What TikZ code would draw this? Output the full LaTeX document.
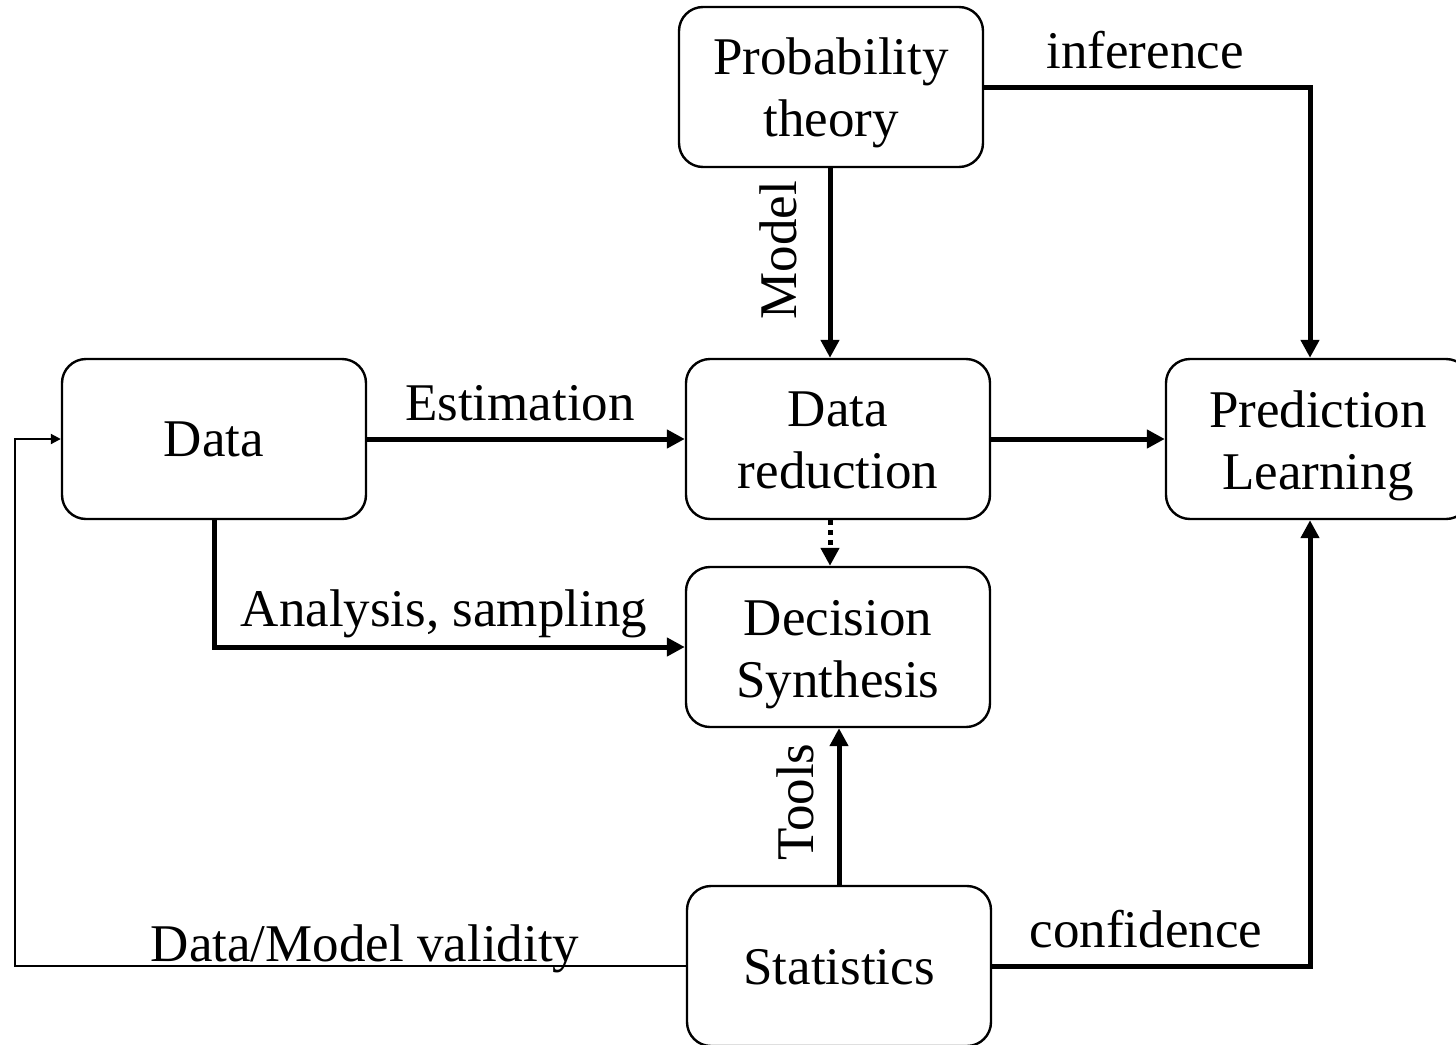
\documentclass[tikz,border=0pt]{standalone}
\usepackage{fontspec}
\setmainfont{Liberation Serif}
\usetikzlibrary{arrows.meta}
\newcommand{\btext}[2][3pt]{\raisebox{-#1}[\height][\depth]{\begin{tabular}{@{}c@{}}#2\end{tabular}}}
\begin{document}
\begin{tikzpicture}[x=0.5pt,y=-0.5pt,
 box/.style={draw,line width=1.2pt,rounded corners=12pt,minimum width=152pt,minimum height=80pt,align=center,inner sep=0pt,font=\fontsize{26.5}{31}\selectfont},
 lbl/.style={font=\fontsize{26.5}{31}\selectfont,inner sep=0pt},
 thk/.style={line width=2.5pt,-{Triangle[length=9pt,width=9pt]}},
 thn/.style={line width=1pt,-{Triangle[length=5pt,width=5pt]}}]
\clip (0,0) rectangle (1456,1044);
\node[box] (prob) at (831,87) {\btext[3pt]{Probability\\theory}};
\node[box] (data) at (214,439) {\btext[2.5pt]{Data}};
\node[box] (dred) at (838,439) {\btext[3pt]{Data\\reduction}};
\node[box] (pred) at (1318,439) {\btext[3.5pt]{Prediction\\Learning}};
\node[box] (dec) at (838,647) {\btext[3.5pt]{Decision\\Synthesis}};
\node[box] (stat) at (839,966) {\btext[3pt]{Statistics}};
\coordinate (lp) at (15,966);
\draw[thk] ([xshift=-0.5pt]prob.south) -- ([xshift=-0.5pt]prob.south|-dred.north);
\draw[thk] (prob.east) -| ([xshift=-4pt]pred.north);
\draw[thk] (data.east) -- (dred.west);
\draw[thk] (dred.east) -- (pred.west);
\draw[thk] (data.south) |- (dec.west);
\draw[thk,dash pattern=on 2.5pt off 2.5pt] ([xshift=-4pt]dred.south) -- ([xshift=-4pt]dec.north);
\draw[thk] (stat.north) -- (stat.north|-dec.south);
\draw[thk] (stat.east) -| ([xshift=-4pt]pred.south);
\draw[thn] (stat.west) -- (lp) |- (data.west);
\node[lbl,rotate=90] (mlab) at (778,250) {Model};
\node[lbl] (ilab) at (1145,50) {inference};
\node[lbl] (elab) at (520,403) {Estimation};
\node[lbl] (alab) at (444,614) {Analysis, sampling};
\node[lbl,rotate=90] (tlab) at (795,802) {Tools};
\node[lbl] (clab) at (1146,929) {confidence};
\node[lbl] (vlab) at (365,949) {Data/Model validity};
\end{tikzpicture}
\end{document}
